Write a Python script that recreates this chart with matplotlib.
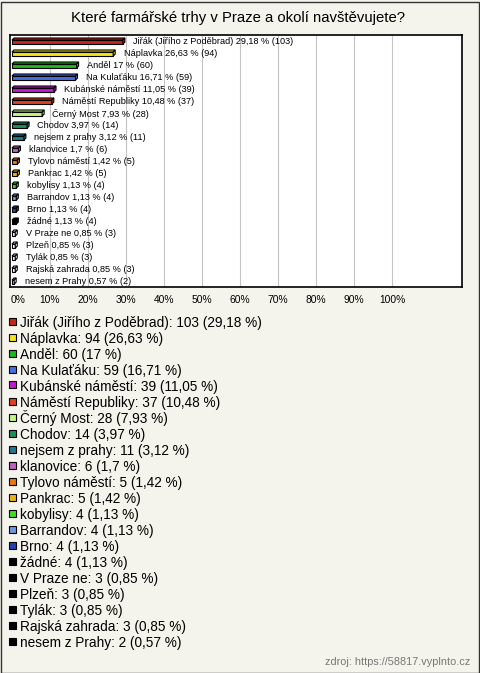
import matplotlib
matplotlib.use("Agg")
import matplotlib.pyplot as plt
from matplotlib.patches import Polygon, Rectangle

plt.rcParams['font.family'] = ['Liberation Sans', 'DejaVu Sans']

# data
names = ["Jiřák (Jiřího z Poděbrad)", "Náplavka", "Anděl", "Na Kulaťáku",
         "Kubánské náměstí", "Náměstí Republiky", "Černý Most", "Chodov",
         "nejsem z prahy", "klanovice", "Tylovo náměstí", "Pankrac", "kobylisy",
         "Barrandov", "Brno", "žádné", "V Praze ne", "Plzeň", "Tylák",
         "Rajská zahrada", "nesem z Prahy"]
counts = [103, 94, 60, 59, 39, 37, 28, 14, 11, 6, 5, 5, 4, 4, 4, 4, 3, 3, 3, 3, 2]
percents = ["29,18", "26,63", "17", "16,71", "11,05", "10,48", "7,93", "3,97",
            "3,12", "1,7", "1,42", "1,42", "1,13", "1,13", "1,13", "1,13",
            "0,85", "0,85", "0,85", "0,85", "0,57"]
colors = ["#c0291c", "#f5e21b", "#1fb51f", "#4a6fe0", "#c21ad1", "#e0401a",
          "#c5f585", "#1e8f5a", "#1e7a8c", "#c060c0", "#e8761a", "#e8b41a",
          "#44dd22", "#6a9ae0", "#2244aa", "#000000", "#000000", "#000000",
          "#000000", "#000000", "#000000"]
ticks = [0, 10, 20, 30, 40, 50, 60, 70, 80, 90, 100]

bg = "#f4f3ec"
W, H = 480, 673
fig = plt.figure(figsize=(W / 100, H / 100), dpi=100, facecolor=bg)

# outer frame
fig.add_artist(Rectangle((0.5 / W, 0.5 / H), 1 - 2 / W, 1 - 2 / H, transform=fig.transFigure,
                         fill=False, edgecolor="#333333", lw=1))

fig.text(0.496, 1 - 18 / H, "Které farmářské trhy v Praze a okolí navštěvujete?",
         ha="center", va="center", fontsize=10.7)

ax = fig.add_axes([10 / W, 1 - 287 / H, 452 / W, 252 / H])
ax.set_facecolor("white")
n = len(names)
ax.set_xlim(-2 / 3.8, 450 / 3.8)
ax.set_ylim(n - 0.5, -0.5)
for t in ticks[1:]:
    ax.axvline(t, color="#c4c4c4", lw=0.8, zorder=0)
ax.set_xticks([])
ax.set_yticks([])
for s in ax.spines.values():
    s.set_linewidth(1.2)
    s.set_color("black")

dx = 2 / 3.8
dy = 0.17
for i, (name, c, p, v) in enumerate(zip(names, counts, percents, colors)):
    val = float(p.replace(",", "."))
    face = v if i < 16 else "white"
    y0, y1 = i - 0.08, i + 0.26
    ax.add_patch(Polygon([(0, y0), (val, y0), (val, y1), (0, y1)],
                         facecolor=face, edgecolor="black", lw=0.8, zorder=3))
    ax.add_patch(Polygon([(0, y0), (val, y0), (val + dx, y0 - dy), (dx, y0 - dy)],
                         facecolor=face, edgecolor="black", lw=0.8, zorder=3))
    ax.add_patch(Polygon([(val, y0), (val + dx, y0 - dy), (val + dx, y1 - dy), (val, y1)],
                         facecolor=face, edgecolor="black", lw=0.8, zorder=3))
    ax.text(val + dx + 2.2, i, f"{name} {p} % ({c})", va="center_baseline", ha="left",
            fontsize=6.6, zorder=4)

for t in ticks:
    xp = 12 + t * 3.8 + (6 if t == 0 else 0)
    fig.text(xp / W, 1 - 299 / H, f"{t}%", ha="center", va="center_baseline", fontsize=7.4)

# legend
for i, (name, c, p, v) in enumerate(zip(names, counts, percents, colors)):
    yc = 321 + i * 16.0
    fig.add_artist(Rectangle((9 / W, 1 - (yc + 3.5) / H), 7 / W, 7 / H, transform=fig.transFigure,
                             facecolor=v, edgecolor="black", lw=0.8))
    fig.text(20 / W, 1 - yc / H, f"{name}: {c} ({p} %)", ha="left", va="center_baseline",
             fontsize=9.8)

fig.text(470 / W, 1 - 661 / H, "zdroj: https://58817.vyplnto.cz", ha="right", va="center_baseline",
         fontsize=7.8, color="#777777")

fig.savefig("out.png", dpi=100, facecolor=bg)
